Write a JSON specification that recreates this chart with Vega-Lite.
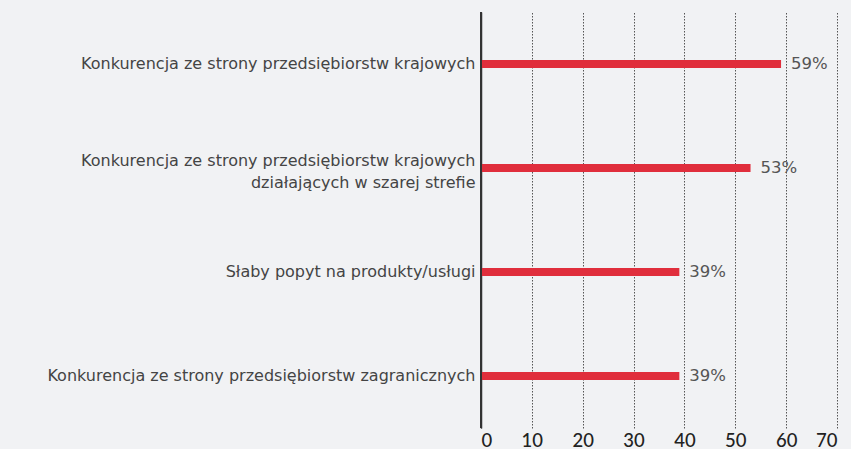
{
  "$schema": "https://vega.github.io/schema/vega-lite/v6.json",
  "width": 356,
  "height": 416,
  "autosize": "none",
  "padding": {"left": 481, "top": 12, "right": 14, "bottom": 21},
  "background": "#f1f2f4",
  "config": {"view": {"stroke": null}},
  "data": {"values": [
    {"cat": "Konkurencja ze strony przedsiębiorstw krajowych", "value": 59, "label": "59%"},
    {"cat": "Konkurencja ze strony przedsiębiorstw krajowych |działających w szarej strefie", "value": 53, "label": "53%"},
    {"cat": "Słaby popyt na produkty/usługi", "value": 39, "label": "39%"},
    {"cat": "Konkurencja ze strony przedsiębiorstw zagranicznych", "value": 39, "label": "39%"}
  ]},
  "encoding": {
    "y": {"field": "cat", "type": "nominal", "sort": null,
      "scale": {"paddingInner": 0, "paddingOuter": 0},
      "axis": {"title": null, "labelExpr": "split(datum.label, '|')", "labelLimit": 480,
        "labelFont": "DejaVu Sans", "labelFontSize": 16, "labelColor": "#444", "labelLineHeight": 22,
        "labelOffset": {"expr": "indexof(datum.value, '|') >= 0 ? -7 : 0"},
        "ticks": false, "labelPadding": 6, "domainColor": "#333", "domainWidth": 1.5, "grid": false}},
    "x": {"field": "value", "type": "quantitative",
      "scale": {"domain": [0, 70], "nice": false},
      "axis": {"title": null, "values": [0, 10, 20, 30, 40, 50, 60, 70], "domain": false, "ticks": false,
        "labelFont": "Lato", "labelFontSize": 18.5, "labelFontWeight": 500, "labelColor": "#222",
        "labelBaseline": "alphabetic", "labelPadding": 18,
        "grid": true, "gridDash": [1.5, 1.5], "gridColor": "#555", "gridWidth": 1}}
  },
  "layer": [
    {"mark": {"type": "bar", "color": "#e02e3c", "height": 8}},
    {"mark": {"type": "text", "align": "left", "baseline": "middle", "dx": 10, "font": "DejaVu Sans", "fontSize": 16.5, "color": "#555"},
      "encoding": {"text": {"field": "label", "type": "nominal"}}},
    {"mark": {"type": "rule", "color": "#333", "strokeWidth": 1.5}, "encoding": {"x": {"datum": 0}, "y": null}}
  ]
}
